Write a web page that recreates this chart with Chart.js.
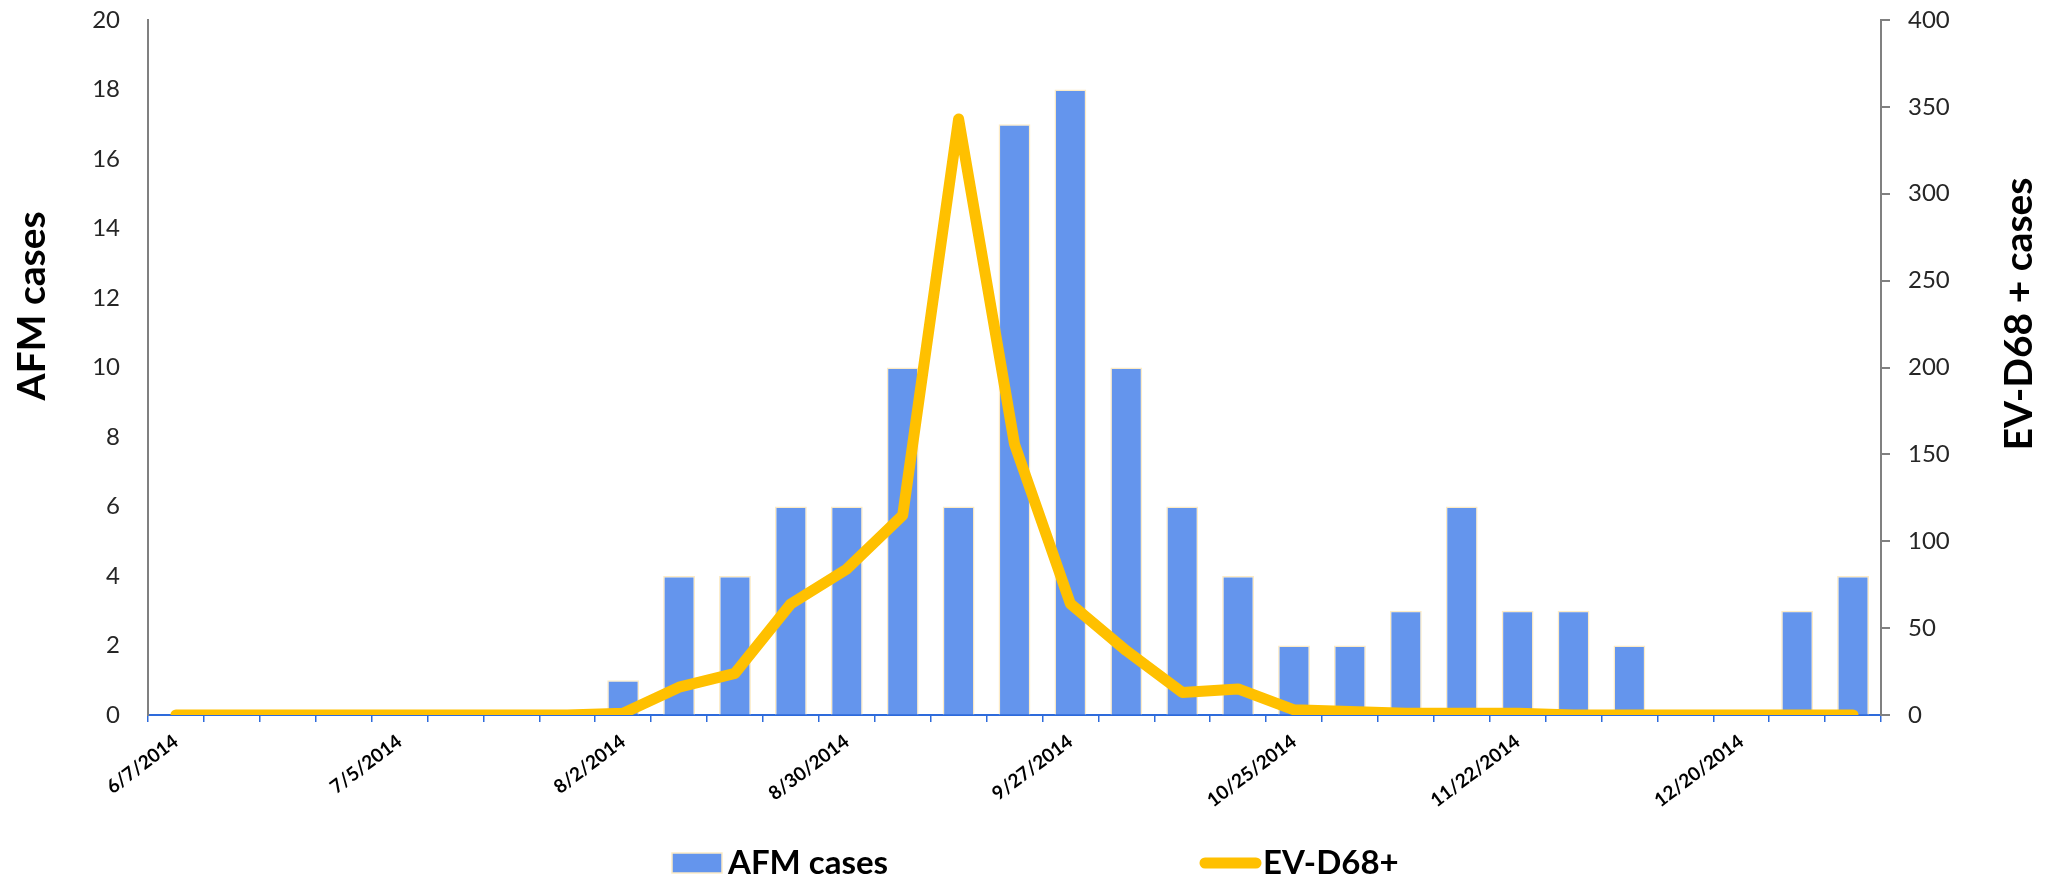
<!DOCTYPE html>
<html>
<head>
<meta charset="utf-8">
<script src="https://cdn.jsdelivr.net/npm/chart.js@4.4.1/dist/chart.umd.min.js"></script>
<style>
  html, body { margin: 0; padding: 0; background: #ffffff; }
  #wrap { position: relative; width: 2054px; height: 880px; }
</style>
</head>
<body>
<div id="wrap"><canvas id="chart" width="2054" height="880"></canvas></div>
<script>
// Week-ending dates (weekly, June 2014 to January 2015)
const weeks = [
  '6/7/2014', '6/14/2014', '6/21/2014', '6/28/2014', '7/5/2014', '7/12/2014', '7/19/2014', '7/26/2014',
  '8/2/2014', '8/9/2014', '8/16/2014', '8/23/2014', '8/30/2014', '9/6/2014', '9/13/2014', '9/20/2014',
  '9/27/2014', '10/4/2014', '10/11/2014', '10/18/2014', '10/25/2014', '11/1/2014', '11/8/2014', '11/15/2014',
  '11/22/2014', '11/29/2014', '12/6/2014', '12/13/2014', '12/20/2014', '12/27/2014', '1/3/2015'
];

// AFM cases per week (left axis)
const afmCases = [0, 0, 0, 0, 0, 0, 0, 0, 1, 4, 4, 6, 6, 10, 6, 17, 18, 10, 6, 4, 2, 2, 3, 6, 3, 3, 2, 0, 0, 3, 4];

// EV-D68 positive cases per week (right axis)
const evd68Cases = [0, 0, 0, 0, 0, 0, 0, 0, 1, 16, 24, 64, 84, 115, 343, 156, 64, 37, 13, 15, 3, 2, 1, 1, 1, 0, 0, 0, 0, 0, 0];

// Every 4th week gets a date label
const labelEvery = 4;

// Axis ranges
const leftAxisMax = 20, leftAxisStep = 2;
const rightAxisMax = 400, rightAxisStep = 50;

const seriesNames = ['AFM cases', 'EV-D68+'];
const leftTitle = 'AFM cases';
const rightTitle = 'EV-D68 + cases';

const barColor = '#6495ED';
const barEdge = '#FCEBC6';
const lineColor = '#FFC000';
const tickFont = 'Lato, "Open Sans", sans-serif';

// Fixed axis widths; the label gap should not push the plot top down
const fitVertical = (width) => (s) => {
  s.width = width;
  s.paddingTop = 0;
  s.paddingBottom = 0;
};

// Axis titles and the legend row
const decorations = {
  id: 'decorations',
  afterDraw(chart) {
    const ctx = chart.ctx;
    ctx.save();
    ctx.fillStyle = '#000';
    ctx.font = 'bold 39px ' + tickFont;
    ctx.textAlign = 'center';
    ctx.textBaseline = 'middle';
    ctx.save();
    ctx.translate(32, 306);
    ctx.rotate(-Math.PI / 2);
    ctx.fillText(leftTitle, 0, 0);
    ctx.restore();
    ctx.save();
    ctx.translate(2019, 314);
    ctx.rotate(-Math.PI / 2);
    ctx.fillText(rightTitle, 0, 0);
    ctx.restore();

    // legend
    const ly = 863;
    ctx.font = 'bold 33px ' + tickFont;
    ctx.textAlign = 'left';
    ctx.textBaseline = 'alphabetic';
    ctx.fillStyle = barColor;
    ctx.fillRect(672, 853, 50, 20);
    ctx.strokeStyle = barEdge;
    ctx.lineWidth = 1.5;
    ctx.strokeRect(672, 853, 50, 20);
    ctx.fillStyle = '#000';
    ctx.fillText(seriesNames[0], 728, 874);

    ctx.strokeStyle = lineColor;
    ctx.lineWidth = 11;
    ctx.lineCap = 'round';
    ctx.beginPath();
    ctx.moveTo(1205, ly);
    ctx.lineTo(1256, ly);
    ctx.stroke();
    ctx.fillStyle = '#000';
    ctx.fillText(seriesNames[1], 1263, 874);
    ctx.restore();
  }
};

new Chart(document.getElementById('chart'), {
  type: 'bar',
  data: {
    labels: weeks,
    datasets: [
      {
        type: 'line',
        label: seriesNames[1],
        data: evd68Cases,
        yAxisID: 'y1',
        borderColor: lineColor,
        backgroundColor: lineColor,
        borderWidth: 11,
        borderCapStyle: 'round',
        borderJoinStyle: 'round',
        pointRadius: 0,
        tension: 0,
        order: 0
      },
      {
        type: 'bar',
        label: seriesNames[0],
        data: afmCases,
        yAxisID: 'y',
        backgroundColor: barColor,
        borderColor: barEdge,
        borderWidth: 1.5,
        categoryPercentage: 1.0,
        barPercentage: 0.57,
        order: 1
      }
    ]
  },
  options: {
    responsive: false,
    animation: false,
    devicePixelRatio: 1,
    layout: { padding: { top: 20, bottom: 65, left: 0, right: 0 } },
    plugins: {
      legend: { display: false },
      tooltip: { enabled: false }
    },
    scales: {
      x: {
        offset: true,
        grid: {
          offset: true,
          drawOnChartArea: false,
          drawTicks: true,
          tickLength: 7,
          color: '#2E6BDB',
          lineWidth: 1.5
        },
        border: { display: true, color: '#2E6BDB', width: 2 },
        ticks: {
          autoSkip: false,
          minRotation: 37,
          maxRotation: 37,
          padding: 8,
          color: '#000',
          font: { family: tickFont, size: 19, weight: 'bold' },
          callback: (v, i) => (i % labelEvery === 0 ? weeks[i] : '')
        },
        afterFit: (s) => { s.height = 100; }
      },
      y: {
        position: 'left',
        min: 0,
        max: leftAxisMax,
        grid: { drawOnChartArea: false, drawTicks: false },
        border: { display: true, color: '#808080', width: 2 },
        ticks: {
          stepSize: leftAxisStep,
          padding: 28,
          color: '#262626',
          font: { family: tickFont, size: 24 }
        },
        afterFit: fitVertical(148)
      },
      y1: {
        position: 'right',
        min: 0,
        max: rightAxisMax,
        grid: { drawOnChartArea: false, drawTicks: true, tickLength: 9, color: '#808080', lineWidth: 2 },
        border: { display: true, color: '#808080', width: 2 },
        ticks: {
          stepSize: rightAxisStep,
          padding: 18,
          color: '#262626',
          font: { family: tickFont, size: 24 }
        },
        afterFit: fitVertical(173)
      }
    }
  },
  plugins: [decorations]
});
</script>
</body>
</html>
